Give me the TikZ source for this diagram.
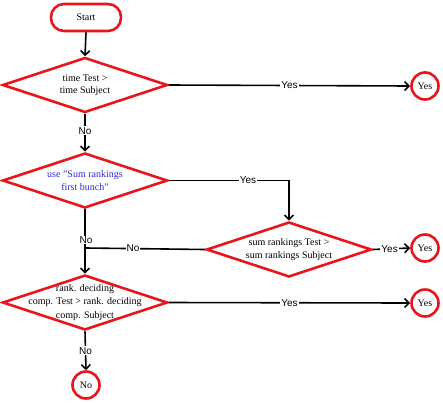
\documentclass[tikz,border=0pt]{standalone}
\usepackage{fontspec}
\setmainfont{Liberation Serif}
\newfontfamily\lsans{Liberation Sans}
\usetikzlibrary{shapes.geometric,arrows.meta}
\definecolor{fred}{RGB}{232,22,26}
\definecolor{fblue}{RGB}{40,40,220}
\tikzset{
  dia/.style={diamond,draw=fred,line width=2.6pt,minimum width=165pt,minimum height=55pt,inner sep=0pt},
  term/.style={circle,draw=fred,line width=2.6pt,minimum size=27pt,inner sep=0pt,font=\fontsize{10}{11}\selectfont},
  startbox/.style={rectangle,rounded corners=13pt,draw=fred,line width=2.6pt,minimum width=70pt,minimum height=27pt,font=\fontsize{10}{11}\selectfont},
  txt/.style={align=center,font=\fontsize{10}{12.5}\selectfont},
  conn/.style={line width=1.6pt,-{Straight Barb[length=4.5pt,width=9pt,line width=1.6pt]}},
  plain/.style={line width=1.6pt},
  lab/.style={fill=white,inner sep=1pt,font=\lsans\fontsize{10}{11}\selectfont}
}
\begin{document}
\begin{tikzpicture}[x=1pt,y=-1pt]
\useasboundingbox (0,0) rectangle (443,402);
\node[startbox] (start) at (86,17.5) {Start};
\node[dia] (d1) at (85,85) {};
\node[txt] (t1) at (d1.center) {time Test >\\time Subject};
\node[dia] (d2) at (85,180.5) {};
\node[txt,text=fblue] (t2) at (d2.center) {use "Sum rankings\\first bunch"};
\node[dia] (d3) at (289,249.5) {};
\node[txt] (t3) at (d3.center) {sum rankings Test >\\sum rankings Subject};
\node[dia] (d4) at (85,302.5) {};
\node[txt,font=\fontsize{10}{13.5}\selectfont] (t4) at (d4.center) {rank. deciding\\comp. Test > rank. deciding\\comp. Subject};
\node[term] (y1) at (425,86) {Yes};
\node[term] (y2) at (425,248) {Yes};
\node[term] (y3) at (425,303) {Yes};
\node[term] (n1) at (86,385) {No};
\coordinate (c1) at (289,180.5);
\coordinate (j1) at (86,248);
\draw[conn] (start.south) -- (d1.north);
\draw[conn] (d1.east) -- node[lab,pos=0.5]{Yes} (y1.west);
\draw[conn] (d1.south) -- node[lab,pos=0.45]{No} (d2.north);
\draw[conn] (d2.east) -- (c1) -- (d3.north);
\node[lab] (ly2) at (248,180.5) {Yes};
\draw[conn] (d2.south) -- (d4.north);
\node[lab] (ln2) at (86,240) {No};
\draw[plain] (d3.west) -- (j1);
\node[lab] (ln3) at (133,248) {No};
\draw[conn] (d3.east) -- node[lab,pos=0.45]{Yes} (y2.west);
\draw[conn] (d4.east) -- node[lab,pos=0.5]{Yes} (y3.west);
\draw[conn] (d4.south) -- node[lab,pos=0.5]{No} (n1.north);
\end{tikzpicture}
\end{document}
